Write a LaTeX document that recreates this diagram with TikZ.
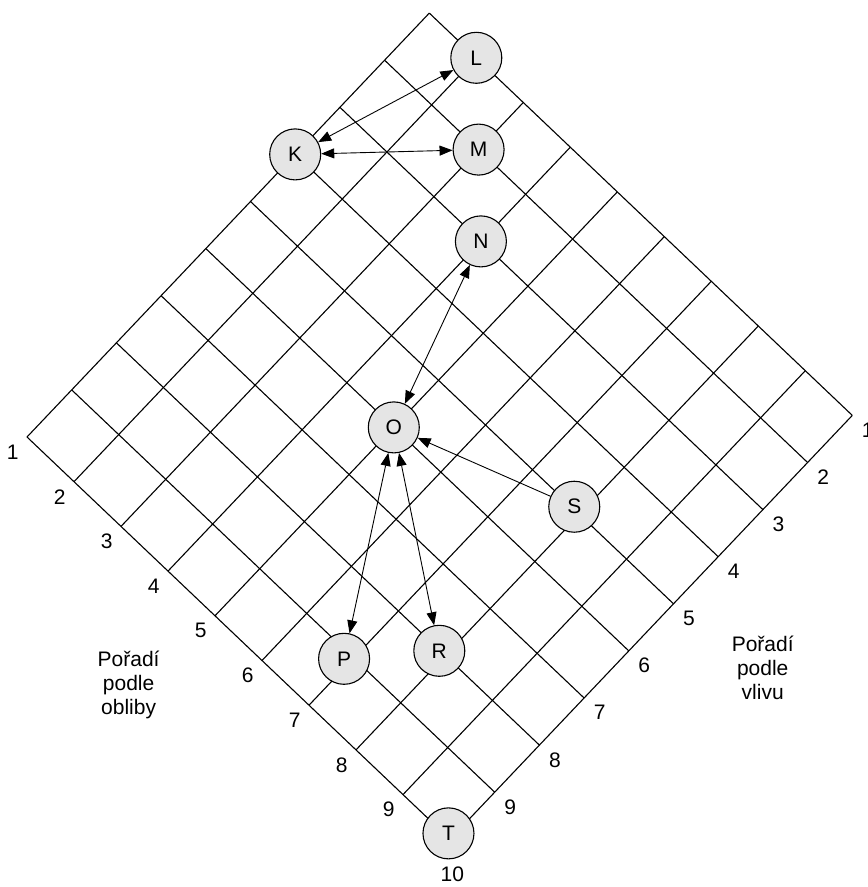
\documentclass[tikz,border=0pt]{standalone}
\usepackage{fontspec}
\setmainfont{Liberation Sans}
\usetikzlibrary{arrows.meta}

\begin{document}
\begin{tikzpicture}[x={(47pt,-44.7pt)}, y={(44.7pt,47.1pt)},
        font=\fontsize{21}{24}\selectfont, line width=1.1pt,
        >={Triangle[length=13pt,width=10pt]},
        person/.style={draw, circle, fill=black!10, minimum size=51pt, inner sep=0pt},
        rank/.style={inner sep=0pt},
        link/.style={line width=0.9pt}]
            \useasboundingbox (-27pt,437pt) rectangle (841pt,-450pt);

            % grid
            \foreach \i in {0,...,9} {
                \draw (\i,0) -- (\i,9);
                \draw (0,\i) -- (9,\i);
            }

            % Poradi podle obliby
            \foreach \k in {1,...,9}
                \node[rank] (o\k) at (\k-1,-0.32) {\k};
            % Poradi podle vlivu
            \foreach \k in {1,...,9}
                \node[rank] (v\k) at (9.33,10-\k) {\k};
            \node[rank] (ten) at (9.4,-0.37) {10};

            \node[align=center] (obliby) at (3.77,-1.69) {Pořadí\\podle\\obliby};
            \node[align=center] (vliv) at (10.68,5.23) {Pořadí\\podle\\vlivu};

            \node[person] (K) at (0,6) {K};
            \node[person] (L) at (1,9) {L};
            \node[person] (M) at (2,8) {M};
            \node[person] (N) at (3,7) {N};
            \node[person] (O) at (4,4) {O};
            \node[person] (S) at (6.86,5.03) {S};
            \node[person] (P) at (5.9,0.89) {P};
            \node[person] (R) at (6.88,1.99) {R};
            \node[person] (T) at (8.92,0.05) {T};

            \draw (K)[<->, link] -- (L);
            \draw (K)[<->, link] -- (M);
            \draw (N)[<->, link] -- (O);
            \draw (S)[->, link] -- (O);
            \draw (O)[<->, link] -- (P);
            \draw (O)[<->, link] -- (R);
\end{tikzpicture}
\end{document}
